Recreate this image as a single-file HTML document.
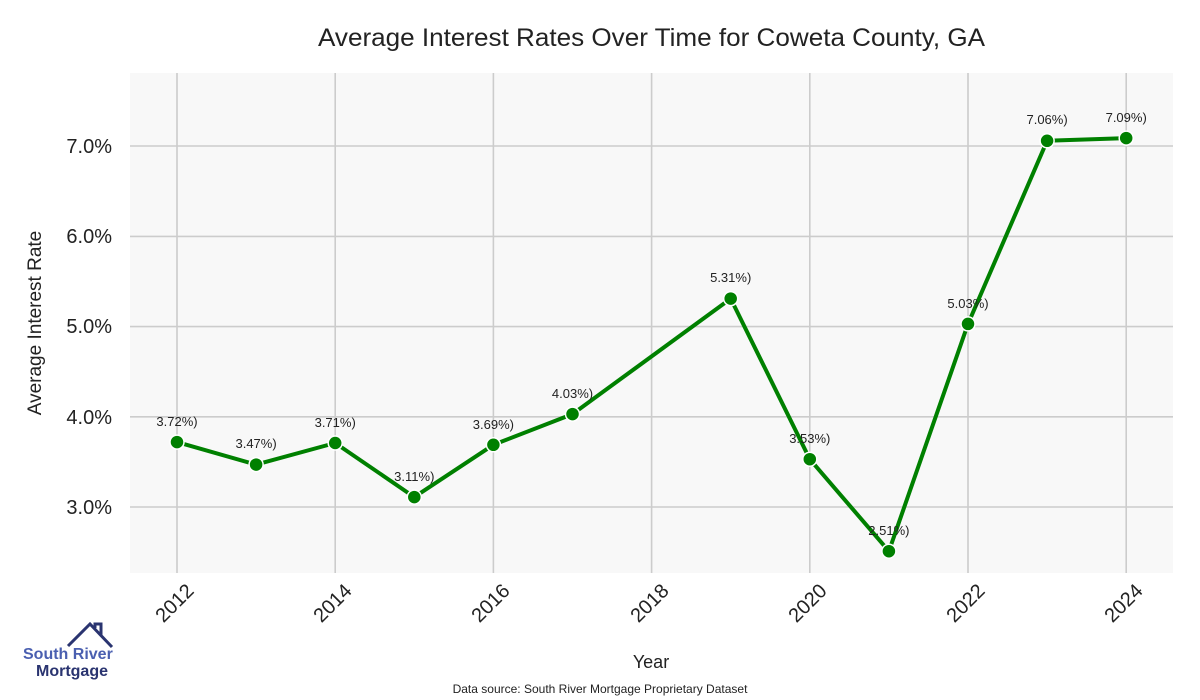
<!DOCTYPE html>
<html><head><meta charset="utf-8"><style>
html,body{margin:0;padding:0;background:#fff;}
svg{display:block;font-family:"Liberation Sans",sans-serif;}
</style></head><body>
<svg width="1200" height="700" viewBox="0 0 1200 700">
<rect x="130" y="73" width="1043" height="500" fill="#f8f8f8"/>
<g stroke="#cccccc" stroke-width="1.6">
<line x1="177" y1="73" x2="177" y2="573"/><line x1="335.2" y1="73" x2="335.2" y2="573"/>
<line x1="493.4" y1="73" x2="493.4" y2="573"/><line x1="651.6" y1="73" x2="651.6" y2="573"/>
<line x1="809.8" y1="73" x2="809.8" y2="573"/><line x1="968" y1="73" x2="968" y2="573"/>
<line x1="1126.2" y1="73" x2="1126.2" y2="573"/>
<line x1="130" y1="146" x2="1173" y2="146"/><line x1="130" y1="236.4" x2="1173" y2="236.4"/>
<line x1="130" y1="326.6" x2="1173" y2="326.6"/><line x1="130" y1="416.8" x2="1173" y2="416.8"/>
<line x1="130" y1="507" x2="1173" y2="507"/>
</g>
<text x="318" y="46" font-size="25" textLength="667" lengthAdjust="spacingAndGlyphs" fill="#222">Average Interest Rates Over Time for Coweta County, GA</text>
<g font-size="20" fill="#222" text-anchor="end">
<text x="112" y="153">7.0%</text><text x="112" y="243">6.0%</text><text x="112" y="333">5.0%</text>
<text x="112" y="424">4.0%</text><text x="112" y="514">3.0%</text>
</g>
<text transform="translate(41,323) rotate(-90)" font-size="19" text-anchor="middle" fill="#222">Average Interest Rate</text>
<g font-size="20" fill="#222" text-anchor="end">
<text transform="translate(195,592) rotate(-45)">2012</text>
<text transform="translate(353,592) rotate(-45)">2014</text>
<text transform="translate(511,592) rotate(-45)">2016</text>
<text transform="translate(670,592) rotate(-45)">2018</text>
<text transform="translate(828,592) rotate(-45)">2020</text>
<text transform="translate(986,592) rotate(-45)">2022</text>
<text transform="translate(1144,592) rotate(-45)">2024</text>
</g>
<text x="651" y="668" font-size="18" text-anchor="middle" fill="#222">Year</text>
<text x="600" y="693" font-size="12" text-anchor="middle" fill="#222">Data source: South River Mortgage Proprietary Dataset</text>
<polyline fill="none" stroke="#008000" stroke-width="4" stroke-linejoin="round" points="177,442.1 256.1,464.6 335.2,443 414.3,497.1 493.4,444.8 572.5,414.1 730.7,298.6 809.8,459.2 888.9,551.2 968,323.9 1047.1,140.8 1126.2,138.1"/>
<g fill="#008000" stroke="#fff" stroke-width="1.5">
<circle cx="177" cy="442.1" r="7"/><circle cx="256.1" cy="464.6" r="7"/><circle cx="335.2" cy="443" r="7"/>
<circle cx="414.3" cy="497.1" r="7"/><circle cx="493.4" cy="444.8" r="7"/><circle cx="572.5" cy="414.1" r="7"/>
<circle cx="730.7" cy="298.6" r="7"/><circle cx="809.8" cy="459.2" r="7"/><circle cx="888.9" cy="551.2" r="7"/>
<circle cx="968" cy="323.9" r="7"/><circle cx="1047.1" cy="140.8" r="7"/><circle cx="1126.2" cy="138.1" r="7"/>
</g>
<g font-size="13" fill="#222" text-anchor="middle">
<text x="177" y="426">3.72%)</text><text x="256.1" y="448">3.47%)</text><text x="335.2" y="427">3.71%)</text>
<text x="414.3" y="481">3.11%)</text><text x="493.4" y="429">3.69%)</text><text x="572.5" y="398">4.03%)</text>
<text x="730.7" y="282">5.31%)</text><text x="809.8" y="443">3.53%)</text><text x="888.9" y="535">2.51%)</text>
<text x="968" y="308">5.03%)</text><text x="1047.1" y="124">7.06%)</text><text x="1126.2" y="122">7.09%)</text>
</g>
<g fill="none" stroke="#2a3470" stroke-width="3">
<polyline points="68,646 90,624 112,647"/>
<polyline points="95,628 95,624 101,624 101,635"/>
</g>
<text x="23" y="659" font-size="16" font-weight="bold" fill="#4a5fb0">South River</text>
<text x="36" y="676" font-size="16" font-weight="bold" fill="#2a3470">Mortgage</text>
</svg>
</body></html>
